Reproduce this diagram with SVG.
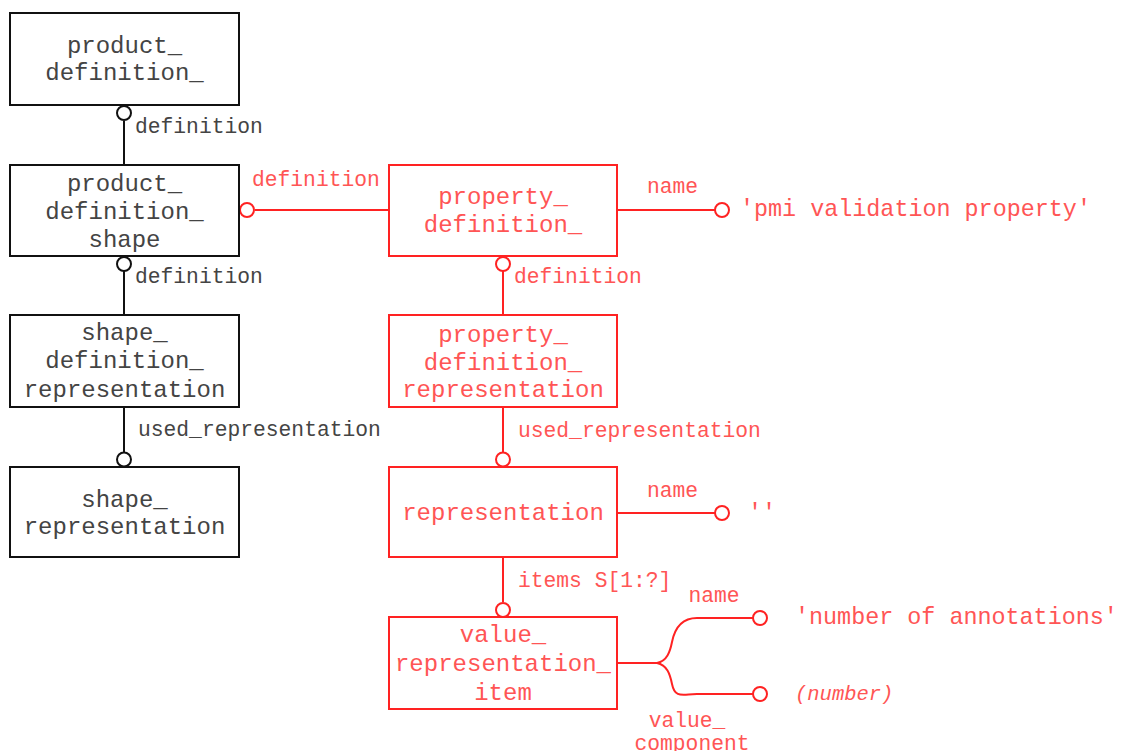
<svg xmlns="http://www.w3.org/2000/svg" width="1121" height="751" viewBox="0 0 1121 751">
<style>
.bb{fill:#fff;stroke:#111;stroke-width:2}
.rb{fill:#fff;stroke:#f22;stroke-width:2}
.bl{fill:none;stroke:#111;stroke-width:2}
.rl{fill:none;stroke:#f22;stroke-width:2}
.bc{fill:#fff;stroke:#111;stroke-width:2}
.rc{fill:#fff;stroke:#f22;stroke-width:2}
text{font-family:"Liberation Mono","Courier New",monospace}
.bt{fill:#444;font-size:24px;text-anchor:middle}
.rt{fill:#f55;font-size:24px;text-anchor:middle}
.bla{fill:#444;font-size:21.3px}
.rla{fill:#f55;font-size:21.3px}
.rv{fill:#f55;font-size:23.4px}
.it{fill:#f55;font-size:20.5px;font-style:italic}
</style>
<rect width="1121" height="751" fill="#fff"/>
<g id="connectors">
  <line class="bl" x1="124" y1="121" x2="124" y2="165"/>
  <circle class="bc" cx="124" cy="113" r="7"/>
  <text class="bla" x="135" y="133">definition</text>

  <line class="bl" x1="124" y1="271" x2="124" y2="315"/>
  <circle class="bc" cx="124" cy="264" r="7"/>
  <text class="bla" x="135" y="283">definition</text>

  <line class="bl" x1="124" y1="407" x2="124" y2="452"/>
  <circle class="bc" cx="124" cy="459.5" r="7"/>
  <text class="bla" x="138" y="436">used_representation</text>

  <line class="rl" x1="255" y1="210" x2="389" y2="210"/>
  <circle class="rc" cx="247" cy="210" r="7"/>
  <text class="rla" x="252" y="186">definition</text>

  <line class="rl" x1="617" y1="210" x2="715" y2="210"/>
  <circle class="rc" cx="722" cy="210" r="7"/>
  <text class="rla" x="647" y="193">name</text>

  <line class="rl" x1="503" y1="271" x2="503" y2="315"/>
  <circle class="rc" cx="503" cy="264" r="7"/>
  <text class="rla" x="514" y="283">definition</text>

  <line class="rl" x1="503" y1="407" x2="503" y2="452"/>
  <circle class="rc" cx="503" cy="459.5" r="7"/>
  <text class="rla" x="518" y="437">used_representation</text>

  <line class="rl" x1="617" y1="513" x2="715" y2="513"/>
  <circle class="rc" cx="722" cy="513" r="7"/>
  <text class="rla" x="647" y="497">name</text>

  <line class="rl" x1="503" y1="557" x2="503" y2="602"/>
  <circle class="rc" cx="503" cy="610" r="7"/>
  <text class="rla" x="518" y="587">items S[1:?]</text>

  <path class="rl" d="M616 663 H657 C667 661 670 652 672 642 C675 627 683 618 697 618 H753"/>
  <path class="rl" d="M657 663 C667 665 670 674 672 684 C675 699 683 694 697 694 H753"/>
  <circle class="rc" cx="760" cy="618" r="7"/>
  <circle class="rc" cx="760" cy="694" r="7"/>
  <text class="rla" x="714" y="602" text-anchor="middle">name</text>
  <text class="rla" x="687" y="727" text-anchor="middle">value_</text>
  <text class="rla" x="692" y="750" text-anchor="middle">component</text>
</g>
<g id="product_definition">
  <rect class="bb" x="10" y="13" width="229" height="92"/>
  <text class="bt" x="124.5" y="53">product_</text>
  <text class="bt" x="124.5" y="80">definition_</text>
</g>
<g id="product_definition_shape">
  <rect class="bb" x="10" y="165" width="229" height="91"/>
  <text class="bt" x="124.5" y="191">product_</text>
  <text class="bt" x="124.5" y="219">definition_</text>
  <text class="bt" x="124.5" y="247">shape</text>
</g>
<g id="shape_definition_representation">
  <rect class="bb" x="10" y="315" width="229" height="92"/>
  <text class="bt" x="124.5" y="340">shape_</text>
  <text class="bt" x="124.5" y="368">definition_</text>
  <text class="bt" x="124.5" y="397">representation</text>
</g>
<g id="shape_representation">
  <rect class="bb" x="10" y="467" width="229" height="90"/>
  <text class="bt" x="124.5" y="507">shape_</text>
  <text class="bt" x="124.5" y="534">representation</text>
</g>
<g id="property_definition">
  <rect class="rb" x="389" y="165" width="228" height="91"/>
  <text class="rt" x="503" y="204">property_</text>
  <text class="rt" x="503" y="232">definition_</text>
</g>
<g id="property_definition_representation">
  <rect class="rb" x="389" y="315" width="228" height="92"/>
  <text class="rt" x="503" y="342">property_</text>
  <text class="rt" x="503" y="370">definition_</text>
  <text class="rt" x="503" y="397">representation</text>
</g>
<g id="representation">
  <rect class="rb" x="389" y="467" width="228" height="90"/>
  <text class="rt" x="503" y="520">representation</text>
</g>
<g id="value_representation_item">
  <rect class="rb" x="389" y="617" width="228" height="92"/>
  <text class="rt" x="503" y="642">value_</text>
  <text class="rt" x="503" y="671">representation_</text>
  <text class="rt" x="503" y="700">item</text>
</g>
<g id="value_pmi">
  <text class="rv" x="740" y="216">'pmi validation property'</text>
</g>
<g id="value_empty">
  <text class="rv" x="748" y="520">''</text>
</g>
<g id="value_number_of_annotations">
  <text class="rv" x="795" y="624">'number of annotations'</text>
</g>
<g id="value_number">
  <text class="it" x="795" y="700">(number)</text>
</g>
</svg>
